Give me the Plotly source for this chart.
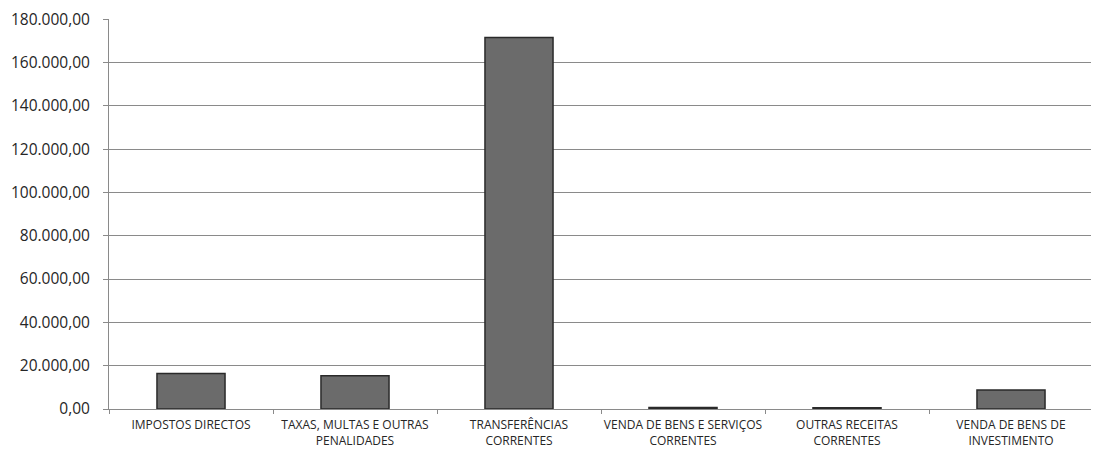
import plotly.graph_objects as go

categories = [
    "IMPOSTOS DIRECTOS",
    "TAXAS, MULTAS E OUTRAS<br>PENALIDADES",
    "TRANSFERÊNCIAS<br>CORRENTES",
    "VENDA DE BENS E SERVIÇOS<br>CORRENTES",
    "OUTRAS RECEITAS<br>CORRENTES",
    "VENDA DE BENS DE<br>INVESTIMENTO",
]
values = [16400, 15300, 171500, 700, 550, 8800]
y_ticks = [0, 20000, 40000, 60000, 80000, 100000, 120000, 140000, 160000, 180000]

fig = go.Figure(
    go.Bar(
        x=categories,
        y=values,
        marker=dict(color="#6b6b6b", line=dict(color="#2a2a2a", width=1.5)),
    )
)

fig.update_layout(
    width=1099,
    height=450,
    margin=dict(l=101, r=14, t=11, b=49),
    paper_bgcolor="white",
    plot_bgcolor="white",
    separators=",.",
    bargap=0.585,
    showlegend=False,
    font=dict(family="Open Sans, sans-serif", color="#262626"),
)

fig.update_xaxes(
    automargin=False,
    tickangle=0,
    showline=True,
    linecolor="#8a8a8a",
    linewidth=1,
    ticks="outside",
    tickson="boundaries",
    ticklen=4,
    tickcolor="#8a8a8a",
    tickfont=dict(size=12, color="#262626"),
    ticklabelstandoff=5,
    showgrid=False,
)

fig.update_yaxes(
    automargin=False,
    range=[0, 180060],
    tickvals=y_ticks,
    tickformat=",.2f",
    ticklabeloverflow="allow",
    showline=True,
    linecolor="#8a8a8a",
    linewidth=1,
    ticks="outside",
    ticklen=5,
    tickcolor="#8a8a8a",
    ticklabelstandoff=10,
    showgrid=True,
    gridcolor="#8a8a8a",
    gridwidth=1,
    zeroline=False,
    tickfont=dict(size=15.5, color="#262626"),
)

fig.write_html("out.html")
